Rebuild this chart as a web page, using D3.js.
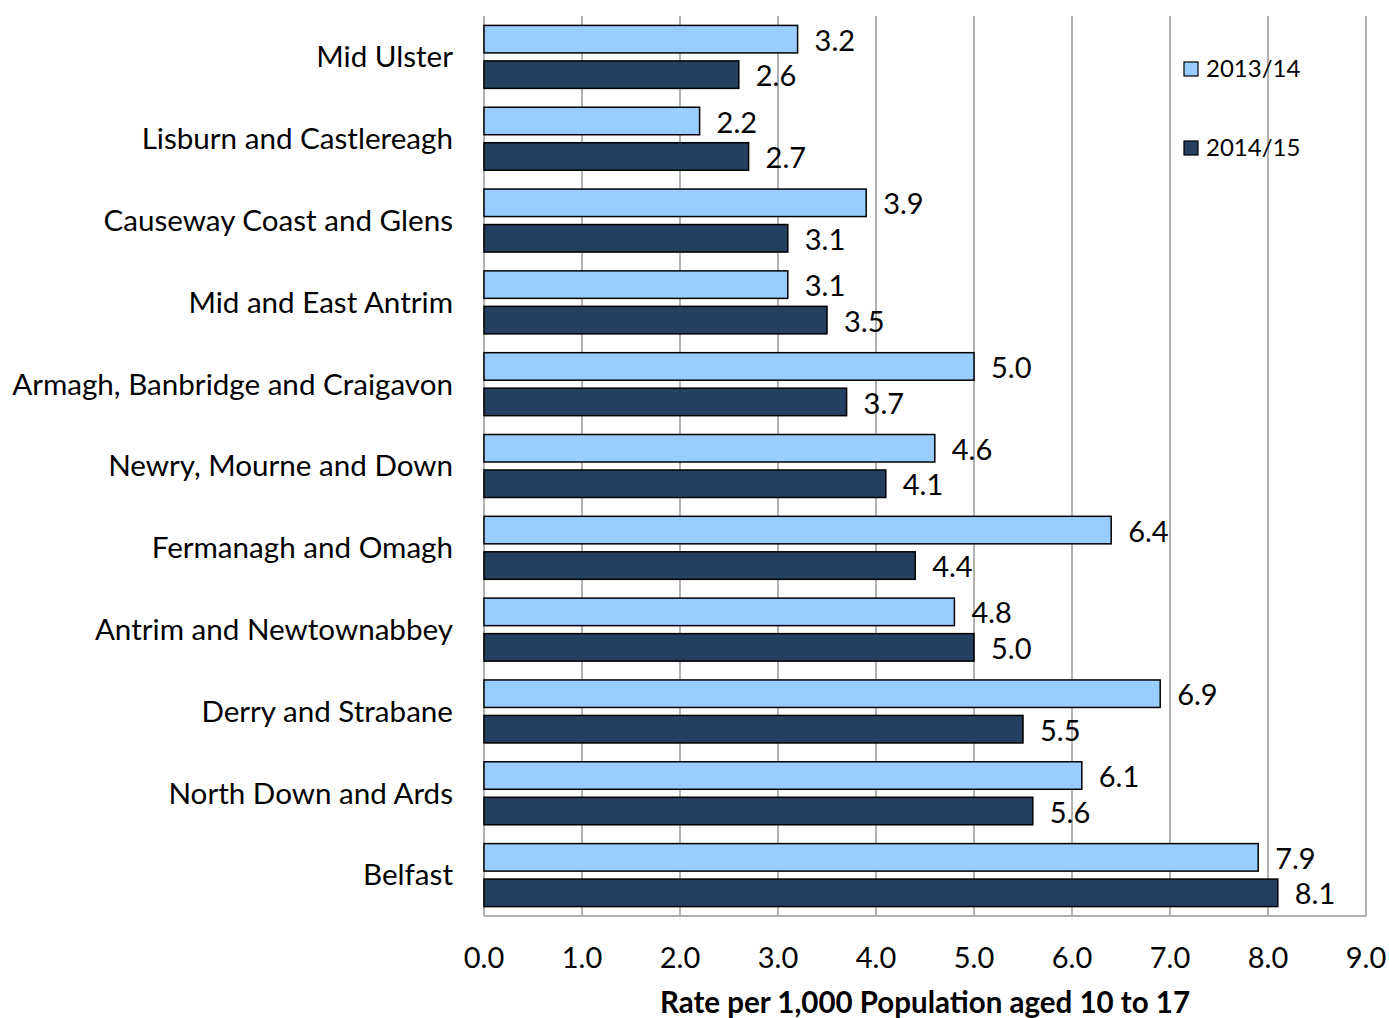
<!DOCTYPE html>
<html lang="en">
<head>
  <meta charset="UTF-8">
  <title>rate-per-1000</title>
  <script src="https://cdn.jsdelivr.net/npm/d3@7"></script>
  <style type="text/css">
    html, body { margin: 0; background: #fff; }
    svg { display: block; }
    text { font-family: Lato, "Open Sans", sans-serif; fill: #000; }
    .grid line { stroke: #999; stroke-width: 1.5; }
  </style>
</head>
<body>
  <script>
    var councils = ['Mid Ulster', 'Lisburn and Castlereagh', 'Causeway Coast and Glens',
      'Mid and East Antrim', 'Armagh, Banbridge and Craigavon', 'Newry, Mourne and Down',
      'Fermanagh and Omagh', 'Antrim and Newtownabbey', 'Derry and Strabane',
      'North Down and Ards', 'Belfast'];
    var series = ['2013/14', '2014/15'];
    var rate1314 = [3.2, 2.2, 3.9, 3.1, 5.0, 4.6, 6.4, 4.8, 6.9, 6.1, 7.9];
    var rate1415 = [2.6, 2.7, 3.1, 3.5, 3.7, 4.1, 4.4, 5.0, 5.5, 5.6, 8.1];
    var xTicks = [0, 1, 2, 3, 4, 5, 6, 7, 8, 9];
    var colours = ['#99ccff', '#243f60'];

    var w = 1389, h = 1018;
    var plotLeft = 484, plotRight = 1366, plotTop = 16, plotBottom = 916;

    var svg = d3.select('body').append('svg')
      .attr('width', w)
      .attr('height', h);

    var x = d3.scaleLinear().domain([0, 9]).range([plotLeft, plotRight]);
    var y = d3.scaleBand().domain(councils).range([plotTop, plotBottom])
      .paddingInner(0.23).paddingOuter(0.115);
    var ySub = d3.scaleBand().domain(series).range([0, y.bandwidth()])
      .paddingInner(0.225);

    var rows = councils.map(function (c, i) {
      return { name: c, values: [rate1314[i], rate1415[i]] };
    });

    // gridlines
    svg.append('g').attr('class', 'grid')
      .selectAll('line')
      .data(xTicks)
      .join('line')
      .attr('x1', function (d) { return x(d); })
      .attr('x2', function (d) { return x(d); })
      .attr('y1', plotTop)
      .attr('y2', plotBottom);

    svg.append('line')
      .attr('x1', plotLeft).attr('x2', plotRight)
      .attr('y1', plotBottom).attr('y2', plotBottom)
      .attr('stroke', '#999').attr('stroke-width', 1.5);

    var groups = svg.append('g').selectAll('g')
      .data(rows)
      .join('g')
      .attr('transform', function (d) { return 'translate(0,' + y(d.name) + ')'; });

    groups.selectAll('rect')
      .data(function (d) {
        return d.values.map(function (v, i) { return { s: series[i], v: v, i: i }; });
      })
      .join('rect')
      .attr('x', x(0))
      .attr('y', function (d) { return ySub(d.s); })
      .attr('width', function (d) { return x(d.v) - x(0); })
      .attr('height', ySub.bandwidth())
      .attr('fill', function (d) { return colours[d.i]; })
      .attr('stroke', '#000')
      .attr('stroke-width', 1.5);

    groups.selectAll('text.val')
      .data(function (d) {
        return d.values.map(function (v, i) { return { s: series[i], v: v }; });
      })
      .join('text')
      .attr('class', 'val')
      .attr('x', function (d) { return x(d.v) + 17; })
      .attr('y', function (d) { return ySub(d.s) + ySub.bandwidth() / 2; })
      .attr('dy', '0.4em')
      .attr('font-size', 29)
      .text(function (d) { return d3.format('.1f')(d.v); });

    // category labels
    svg.append('g').selectAll('text')
      .data(councils)
      .join('text')
      .attr('x', plotLeft - 31)
      .attr('y', function (d) { return y(d) + y.bandwidth() / 2; })
      .attr('dy', '0.35em')
      .attr('text-anchor', 'end')
      .attr('font-size', 29.6)
      .text(function (d) { return d; });

    // x tick labels
    svg.append('g').selectAll('text')
      .data(xTicks)
      .join('text')
      .attr('x', function (d) { return x(d); })
      .attr('y', 958)
      .attr('dy', '0.35em')
      .attr('text-anchor', 'middle')
      .attr('font-size', 29)
      .text(function (d) { return d3.format('.1f')(d); });

    svg.append('text')
      .attr('x', 925)
      .attr('y', 1013)
      .attr('text-anchor', 'middle')
      .attr('font-size', 29.5)
      .attr('font-weight', 'bold')
      .text('Rate per 1,000 Population aged 10 to 17');

    // legend
    var legend = svg.append('g').selectAll('g')
      .data(series)
      .join('g')
      .attr('transform', function (d, i) { return 'translate(1184,' + (62 + i * 79) + ')'; });

    legend.append('rect')
      .attr('width', 14).attr('height', 14)
      .attr('fill', function (d, i) { return colours[i]; })
      .attr('stroke', '#000').attr('stroke-width', 1.2);

    legend.append('text')
      .attr('x', 22).attr('y', 7)
      .attr('dy', '0.35em')
      .attr('font-size', 24)
      .text(function (d) { return d; });
  </script>
</body>
</html>
